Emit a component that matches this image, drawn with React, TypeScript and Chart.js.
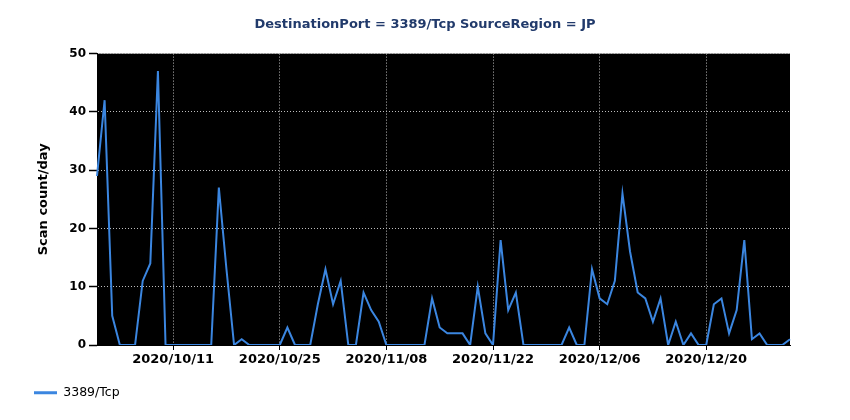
import React, { useEffect, useRef } from "react";
import { Chart, registerables } from "chart.js";

Chart.register(...registerables);

// Daily scan counts, 2020/10/01 .. 2020/12/31
const startDate = "2020-10-01";
const dayCount = 92;
const scanCounts = [
  29, 42, 5, 0, 0, 0, 11, 14, 47, 0,
  0, 0, 0, 0, 0, 0, 27, 13, 0, 1,
  0, 0, 0, 0, 0, 3, 0, 0, 0, 7,
  13, 7, 11, 0, 0, 9, 6, 4, 0, 0,
  0, 0, 0, 0, 8, 3, 2, 2, 2, 0,
  10, 2, 0, 18, 6, 9, 0, 0, 0, 0,
  0, 0, 3, 0, 0, 13, 8, 7, 11, 26,
  16, 9, 8, 4, 8, 0, 4, 0, 2, 0,
  0, 7, 8, 2, 6, 18, 1, 2, 0, 0,
  0, 1,
];
const tickLabels = ["2020/10/11", "2020/10/25", "2020/11/08", "2020/11/22", "2020/12/06", "2020/12/20"];
const seriesName = "3389/Tcp";
const titleText = "DestinationPort = 3389/Tcp SourceRegion = JP";
const yTitle = "Scan count/day";

function buildDates(): string[] {
  const out: string[] = [];
  const base = new Date(startDate + "T00:00:00Z");
  for (let i = 0; i < dayCount; i++) {
    const d = new Date(base.getTime() + i * 86400000);
    const m = String(d.getUTCMonth() + 1).padStart(2, "0");
    const dd = String(d.getUTCDate()).padStart(2, "0");
    out.push(`${d.getUTCFullYear()}/${m}/${dd}`);
  }
  return out;
}

const FONT = "'DejaVu Sans', sans-serif";
const GRID = "#bdbdbd";

export default function App() {
  const ref = useRef<HTMLCanvasElement | null>(null);

  useEffect(() => {
    if (!ref.current) return;
    const labels = buildDates();
    const tickIdx = tickLabels.map((t) => labels.indexOf(t)).filter((i) => i >= 0);

    const bgPlugin = {
      id: "plotBg",
      beforeDraw(chart: any) {
        const { ctx, chartArea } = chart;
        if (!chartArea) return;
        ctx.save();
        ctx.fillStyle = "#000000";
        ctx.fillRect(chartArea.left, chartArea.top, chartArea.right - chartArea.left, chartArea.bottom - chartArea.top);
        ctx.restore();
      },
    };

    const chart = new Chart(ref.current, {
      type: "line",
      data: {
        labels,
        datasets: [
          {
            label: seriesName,
            data: scanCounts,
            borderColor: "#3b86e0",
            backgroundColor: "#3b86e0",
            borderWidth: 2,
            pointRadius: 0,
            tension: 0,
            fill: false,
          },
        ],
      },
      plugins: [bgPlugin],
      options: {
        animation: false,
        responsive: true,
        maintainAspectRatio: false,
        layout: { padding: { left: 16, right: 16, top: 0, bottom: 3 } },
        plugins: {
          title: {
            display: true,
            text: titleText,
            color: "#213a6b",
            font: { family: FONT, size: 13, weight: "bold" },
            padding: { top: 9, bottom: 21 },
          },
          legend: {
            display: true,
            position: "bottom",
            align: "start",
            labels: {
              boxWidth: 23,
              boxHeight: 3,
              padding: 10,
              color: "#000000",
              font: { family: FONT, size: 12.5 },
              generateLabels: (c: any) =>
                Chart.defaults.plugins.legend.labels.generateLabels(c).map((l: any) => ({ ...l, lineWidth: 0 })),
            },
          },
          tooltip: { enabled: false },
        },
        scales: {
          x: {
            type: "category",
            offset: false,
            afterBuildTicks: (scale: any) => {
              scale.ticks = tickIdx.map((v) => ({ value: v }));
            },
            afterFit: (scale: any) => {
              scale.height = 31.5;
            },
            ticks: {
              autoSkip: false,
              maxRotation: 0,
              minRotation: 0,
              padding: 2,
              color: "#000000",
              font: { family: FONT, size: 13, weight: "bold" },
              callback: (value: any) => labels[value as number],
            },
            grid: {
              color: GRID,
              lineWidth: 1,
              tickLength: 5,
              tickColor: "#000000",
              tickWidth: 1,
              tickBorderDash: [],
            },
            border: { display: true, color: "#000000", dash: [1, 2] },
          },
          y: {
            min: 0,
            max: 50,
            afterFit: (scale: any) => {
              scale.width = 73;
            },
            ticks: {
              stepSize: 10,
              padding: 3,
              color: "#000000",
              font: { family: FONT, size: 12, weight: "bold" },
            },
            grid: {
              color: (ctx: any) => (ctx.tick && ctx.tick.value === 0 ? "rgba(0,0,0,0)" : GRID),
              lineWidth: 1,
              tickLength: 8,
              tickColor: "#000000",
              tickWidth: 1.5,
              tickBorderDash: [],
            },
            border: { display: true, color: "#000000", dash: [1, 2] },
            title: {
              display: true,
              text: yTitle,
              color: "#000000",
              font: { family: FONT, size: 13, weight: "bold" },
              padding: { top: 12, bottom: 0 },
            },
          },
          yRight: {
            type: "linear",
            position: "right",
            display: true,
            afterFit: (scale: any) => {
              scale.width = 36;
            },
            ticks: { display: false },
            grid: { display: false, drawTicks: false },
            border: { display: false },
          },
        },
      } as any,
    });

    return () => chart.destroy();
  }, []);

  return (
    <div style={{ position: "relative", height: 404 }}>
      <canvas ref={ref} />
    </div>
  );
}
